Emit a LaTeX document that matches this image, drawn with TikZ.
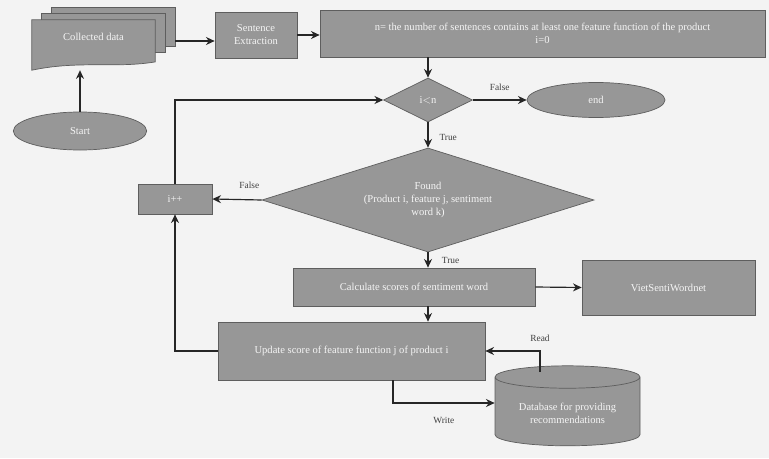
\documentclass[tikz,border=0pt]{standalone}
\usepackage{fontspec}
\setmainfont{Liberation Serif}
\usepackage{tikz}
\usetikzlibrary{arrows.meta,positioning,shapes.geometric,calc}

\definecolor{boxfill}{HTML}{979797}
\definecolor{boxline}{HTML}{5E5E5E}
\definecolor{paper}{HTML}{F3F3F3}

\begin{document}
\begin{tikzpicture}[
  font=\small,
  block/.style={rectangle, draw=boxline, fill=boxfill, text=white!92!gray,
                align=center, inner sep=2pt, line width=0.6pt},
  decision/.style={block, diamond, inner sep=0pt},
  terminal/.style={block, ellipse},
  store/.style={block, cylinder, shape border rotate=90, aspect=0.22},
  arr/.style={-{Stealth[length=2.6mm,width=2.4mm]}, line width=1pt, draw=black!85},
  lbl/.style={font=\footnotesize, text=black!75},
]
\fill[paper] (0,0) rectangle (23.07,-13.74);
\useasboundingbox (0,0) rectangle (23.07,-13.74);

% collected data as a stack of pages
\node[minimum width=3.69cm, minimum height=1.5cm] (data) at (2.805,-1.35) {};
\foreach \s in {0.6,0.3}{
  \draw[draw=boxline, fill=boxfill, line width=0.6pt]
    ([xshift=\s cm, yshift=0.6*\s cm]data.north west) rectangle
    ([xshift=\s cm, yshift=0.6*\s cm+0.35cm]data.south east);
}
\draw[draw=boxline, fill=boxfill, line width=0.6pt]
  (data.north west) -- (data.north east) -- ([yshift=0.25cm]data.south east)
  .. controls ([xshift=-1.2cm, yshift=0.05cm]data.south east)
  and ([xshift=1.4cm, yshift=0.3cm]data.south west) .. (data.south west) -- cycle;
\node[text=white!92!gray] at ([yshift=0.25cm]data.center) {Collected data};
\coordinate (dataout) at ([xshift=0.6cm, yshift=0.12cm]data.east);

\node[terminal, minimum width=4cm, minimum height=1.14cm]  (start) at (2.4,-3.93)   {Start};
\node[block, minimum width=2.46cm, minimum height=1.38cm]  (sent)  at (7.68,-1.05)  {Sentence\\Extraction};
\node[block, minimum width=13.35cm, minimum height=1.41cm] (count) at (16.275,-1.005)
  {n= the number of sentences contains at least one feature function of the product\\i=0};
\node[decision, aspect=2, minimum width=2.67cm, minimum height=1.32cm] (cond) at (12.84,-3.0) {i$<$n};
\node[terminal, minimum width=4.14cm, minimum height=1.05cm] (stop) at (17.88,-3.0) {end};
\node[decision, aspect=3.2, minimum width=9.96cm, minimum height=3.12cm] (found) at (12.84,-6.0)
  {Found\\(Product i, feature j, sentiment\\word k)};
\node[block, minimum width=2.22cm, minimum height=0.9cm]   (inc)   at (5.25,-5.97)  {i++};
\node[block, minimum width=7.26cm, minimum height=1.14cm]  (calc)  at (12.42,-8.61) {Calculate scores of sentiment word};
\node[block, minimum width=5.19cm, minimum height=1.65cm]  (viet)  at (20.055,-8.625) {VietSentiWordnet};
\node[block, minimum width=8.01cm, minimum height=1.74cm]  (upd)   at (10.545,-10.53) {Update score of feature function j of product i};
\node[store, minimum width=4.35cm, minimum height=2.4cm]   (db)    at (17.025,-12.39) {Database for providing\\recommendations};

\coordinate (readx)  at (16.2,0);
\coordinate (writex) at (11.79,0);

\draw[arr] (start.north -| 2.4,0) -- (start.north |- data.south);
\draw[arr] (dataout) -- (dataout -| sent.west);
\draw[arr] (sent.east) -- (sent.east -| count.west);
\draw[arr] (count.south -| cond) -- (cond.north);
\draw[arr] (cond.east) -- (stop.west) node[lbl, midway, above=4pt] {False};
\draw[arr] (cond.south) -- (found.north) node[lbl, midway, right=6pt, yshift=-2pt] {True};
\draw[arr] (found.west) -- (inc.east) node[lbl, pos=0.25, above=6pt] {False};
\draw[arr] (inc.north) |- (cond.west);
\draw[arr] (found.south) -- (found.south |- calc.north) node[lbl, midway, right=8pt] {True};
\draw[arr] (calc.east) -- (viet.west);
\draw[arr] (found.south |- calc.south) -- (found.south |- upd.north);
\draw[arr] (upd.west) -| (inc.south);
\draw[arr] ($(db.north -| readx)+(0,-0.2)$) |- (upd.east) node[lbl, pos=0.5, above=4pt] {Read};
\draw[arr] (upd.south -| writex) |- ([yshift=0.3cm]db.west) node[lbl, pos=0.75, below=8pt] {Write};

\end{tikzpicture}
\end{document}
